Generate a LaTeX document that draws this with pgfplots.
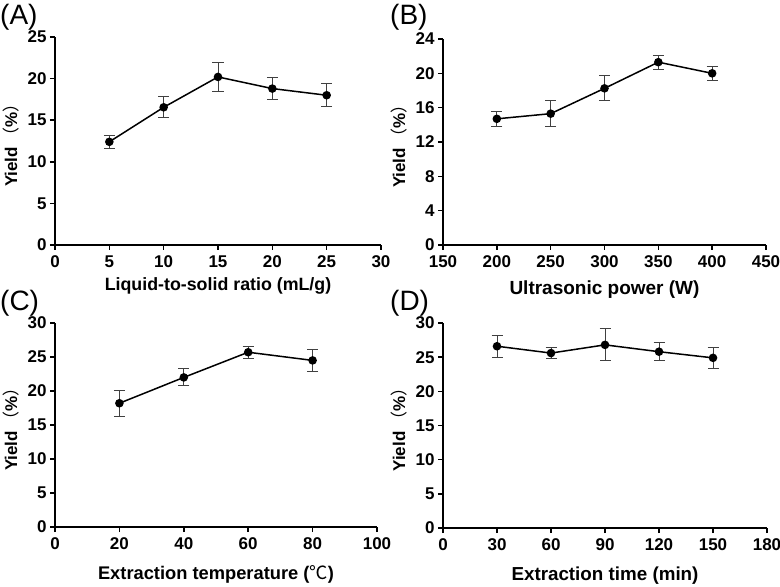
\documentclass[border=0pt]{standalone}
\usepackage{fontspec}
\setmainfont{Liberation Sans}
\newfontfamily\cjk{Noto Sans CJK SC}
\usepackage{pgfplots}
\pgfplotsset{compat=1.18}

\pgfplotsset{
  panel/.style={
    scale only axis,
    anchor=south west,
    axis x line*=bottom,
    axis y line*=left,
    axis line style={line width=2bp},
    tick style={black, line width=1.5bp},
    tick align=outside,
    major tick length=5bp,
    minor tick num=0,
    clip=false,
    /pgf/number format/assume math mode=true,
    tick label style={font=\fontsize{17bp}{19bp}\selectfont\bfseries},
    xticklabel style={yshift=-2bp},
    ylabel style={font=\fontsize{17bp}{20bp}\selectfont\bfseries, yshift=2bp},
    ylabel={Yield\,{\cjk\mdseries （}\%{\cjk\mdseries ）}},
  },
  series/.style={
    black, line width=1.5bp, mark=*, mark size=3.5bp,
    error bars/.cd, y dir=both, y explicit,
    error bar style={line width=0.9bp, black!75},
    error mark options={rotate=90, mark size=5.5bp, line width=0.9bp, black!75},
  },
}

\begin{document}
\begin{tikzpicture}
\path[use as bounding box] (0,0) rectangle (780bp,587bp);

% (A)
\begin{axis}[panel, at={(55bp,342bp)}, width=326bp, height=208bp,
  xmin=0, xmax=30, ymin=0, ymax=25,
  xtick={0,5,...,30}, ytick={0,5,...,25},
  xlabel={Liquid-to-solid ratio (mL/g)},
  xlabel style={font=\fontsize{17.8bp}{21bp}\selectfont\bfseries, yshift=-3bp}]
\addplot[series] coordinates {
  (5,12.4) +- (0,0.8)
  (10,16.55) +- (0,1.25)
  (15,20.2) +- (0,1.7)
  (20,18.8) +- (0,1.3)
  (25,18.0) +- (0,1.4)
};
\end{axis}

% (B)
\begin{axis}[panel, at={(443bp,342bp)}, width=323bp, height=206bp,
  xmin=150, xmax=450, ymin=0, ymax=24,
  xtick={150,200,...,450}, ytick={0,4,...,24},
  xlabel={Ultrasonic power (W)},
  xlabel style={font=\fontsize{19bp}{22bp}\selectfont\bfseries, yshift=-6bp}]
\addplot[series] coordinates {
  (200,14.7) +- (0,0.9)
  (250,15.3) +- (0,1.5)
  (300,18.25) +- (0,1.45)
  (350,21.3) +- (0,0.8)
  (400,20.0) +- (0,0.8)
};
\end{axis}

% (C)
\begin{axis}[panel, at={(55bp,60bp)}, width=322bp, height=204bp,
  xmin=0, xmax=100, ymin=0, ymax=30,
  xtick={0,20,...,100}, ytick={0,5,...,30},
  xlabel={Extraction temperature ({\cjk\mdseries ℃})},
  xlabel style={font=\fontsize{18.3bp}{21bp}\selectfont\bfseries, yshift=-9bp}]
\addplot[series] coordinates {
  (20,18.2) +- (0,1.9)
  (40,22.0) +- (0,1.25)
  (60,25.7) +- (0,0.9)
  (80,24.5) +- (0,1.6)
};
\end{axis}

% (D)
\begin{axis}[panel, at={(443bp,59bp)}, width=324bp, height=205bp,
  xmin=0, xmax=180, ymin=0, ymax=30,
  xtick={0,30,...,180}, ytick={0,5,...,30},
  xlabel={Extraction time (min)},
  xlabel style={font=\fontsize{18.8bp}{21bp}\selectfont\bfseries, yshift=-9bp}]
\addplot[series] coordinates {
  (30,26.6) +- (0,1.6)
  (60,25.6) +- (0,0.8)
  (90,26.8) +- (0,2.35)
  (120,25.8) +- (0,1.35)
  (150,24.9) +- (0,1.55)
};
\end{axis}

\node[anchor=west, inner sep=0pt, font=\fontsize{28bp}{32bp}\selectfont] at (0bp,570bp) {(A)};
\node[anchor=west, inner sep=0pt, font=\fontsize{28bp}{32bp}\selectfont] at (390bp,570bp) {(B)};
\node[anchor=west, inner sep=0pt, font=\fontsize{28bp}{32bp}\selectfont] at (0bp,284bp) {(C)};
\node[anchor=west, inner sep=0pt, font=\fontsize{28bp}{32bp}\selectfont] at (390bp,284bp) {(D)};
\end{tikzpicture}
\end{document}
